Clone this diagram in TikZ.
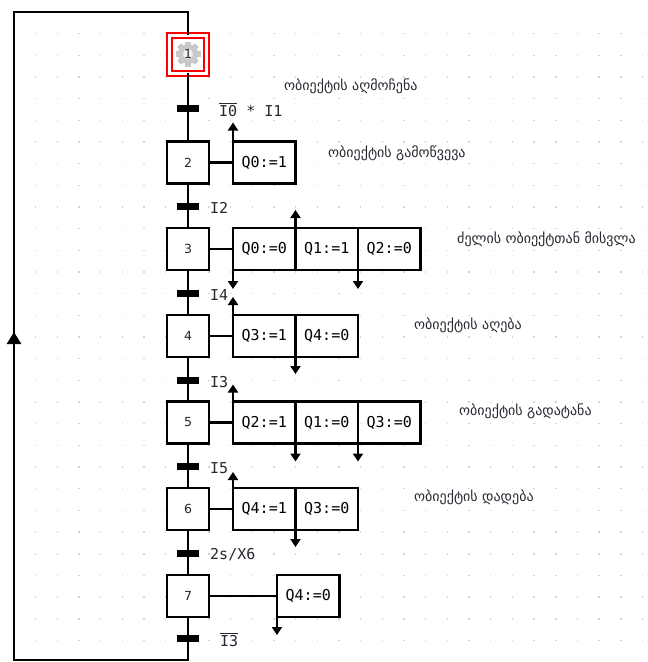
\documentclass[tikz,border=0pt]{standalone}
\usepackage{fontspec}
\setmainfont{DejaVu Sans}
\newfontfamily\monof{DejaVu Sans Mono}
\usetikzlibrary{arrows.meta}
% overlined signal name (negated input)
\newcommand\negsig[1]{\vbox{\hrule height 1.2pt\kern 1.6pt\hbox{#1}}}
\definecolor{gridc}{RGB}{212,212,212}
\definecolor{gearc}{RGB}{200,200,200}
\definecolor{txtc}{RGB}{40,40,50}
\begin{document}
\begin{tikzpicture}[x=1pt,y=-1pt,
  wire/.style={line width=2.4pt},
  stepbox/.style={draw,line width=2.4pt,minimum width=42pt,minimum height=42pt,inner sep=0pt,outer sep=0pt,
    font=\fontsize{12.5}{14}\selectfont,text=txtc},
  initstep/.style={draw=red,double=white,line width=2pt,double distance=3pt,outer sep=0pt,
    minimum width=37pt,minimum height=38pt,inner sep=0pt,font=\fontsize{12.5}{14}\selectfont,text=txtc},
  actbox/.style={draw,line width=2.4pt,minimum width=62.5pt,minimum height=42pt,inner sep=0pt,outer sep=0pt,
    font=\monof\fontsize{15}{17}\selectfont},
  trbar/.style={fill=black,minimum width=22pt,minimum height=7pt,inner sep=0pt},
  cond/.style={anchor=west,inner sep=0pt,font=\monof\fontsize{15}{17}\selectfont,text=txtc},
  note/.style={anchor=west,inner sep=0pt,font=\fontsize{14}{16}\selectfont,text=txtc},
  tip/.style={-{Triangle[width=10pt,length=8pt]}},
]
\useasboundingbox (0,0) rectangle (648,662);
\fill[white] (0,0) rectangle (648,662);

% background dot grid
\foreach \i in {1,...,29}
  \foreach \j in {1,...,29}
    \fill[gridc] ({14+\i*21.67-0.75},{12+\j*21.67-0.75}) rectangle ++(1.5,1.5);

% gear symbol of the initial step
\fill[gearc] (188,54) circle (10);
\foreach \a in {0,45,...,315}
  \fill[gearc,rotate around={\a:(188,54)}] (185.2,41.5) rectangle (190.8,48);
\fill[gray!12] (188,54) circle (5);

% steps
\node[initstep] (s1) at (188,54) {1};
\node[stepbox] (s2) at (188,162.5) {2};
\node[stepbox] (s3) at (188,249) {3};
\node[stepbox] (s4) at (188,336) {4};
\node[stepbox] (s5) at (188,422.5) {5};
\node[stepbox] (s6) at (188,509) {6};
\node[stepbox] (s7) at (188,596) {7};

% return loop
\coordinate (lb) at (188,660);
\coordinate (llb) at (14,660);
\coordinate (llt) at (14,12);
\coordinate (lt) at (188,12);
\coordinate (mid) at (14,332);
\draw[wire] (s1) -- (s2);
\draw[wire] (s2) -- (s3);
\draw[wire] (s3) -- (s4);
\draw[wire] (s4) -- (s5);
\draw[wire] (s5) -- (s6);
\draw[wire] (s6) -- (s7);
\draw[wire,line join=miter] (s7) -- (lb) -- (llb) -- (llt) -- (lt) -- (s1);
\draw[wire,-{Triangle[width=14pt,length=12pt]}] (llb) -- (mid);

% transitions
\node[trbar] (t1) at (188,108) {};
\node[trbar] (t2) at (188,206) {};
\node[trbar] (t3) at (188,293) {};
\node[trbar] (t4) at (188,380) {};
\node[trbar] (t5) at (188,466) {};
\node[trbar] (t6) at (188,553) {};
\node[trbar] (t7) at (188,638) {};
\node[cond] (c1) at (219,110) {\negsig{I0} * I1};
\node[cond] (c2) at (210,208) {I2};
\node[cond] (c3) at (210,295) {I4};
\node[cond] (c4) at (210,382) {I3};
\node[cond] (c5) at (210,468) {I5};
\node[cond] (c6) at (210,555) {2s/X6};
\node[cond] (c7) at (220,640) {\negsig{I3}};

% actions
\node[actbox,anchor=west] (a2) at (233,162.5) {Q0:=1};
\node[actbox,anchor=west] (a3a) at (233,249) {Q0:=0};
\node[actbox,anchor=west] (a3b) at (a3a.east) {Q1:=1};
\node[actbox,anchor=west] (a3c) at (a3b.east) {Q2:=0};
\node[actbox,anchor=west] (a4a) at (233,336) {Q3:=1};
\node[actbox,anchor=west] (a4b) at (a4a.east) {Q4:=0};
\node[actbox,anchor=west] (a5a) at (233,422.5) {Q2:=1};
\node[actbox,anchor=west] (a5b) at (a5a.east) {Q1:=0};
\node[actbox,anchor=west] (a5c) at (a5b.east) {Q3:=0};
\node[actbox,anchor=west] (a6a) at (233,509) {Q4:=1};
\node[actbox,anchor=west] (a6b) at (a6a.east) {Q3:=0};
\node[actbox,anchor=west] (a7) at (277,596) {Q4:=0};

\draw[wire] (s2) -- (a2);
\draw[wire] (s3) -- (a3a);
\draw[wire] (s4) -- (a4a);
\draw[wire] (s5) -- (a5a);
\draw[wire] (s6) -- (a6a);
\draw[wire] (s7) -- (a7);

% signal arrows of the actions
\draw[wire,tip] (a2.north west) -- ++(0,-19);
\draw[wire,tip] (a3b.north west) -- ++(0,-18);
\draw[wire,tip] (a3a.south west) -- ++(0,19);
\draw[wire,tip] (a3c.south west) -- ++(0,19);
\draw[wire,tip] (a4a.north west) -- ++(0,-18);
\draw[wire,tip] (a4b.south west) -- ++(0,17);
\draw[wire,tip] (a5a.north west) -- ++(0,-17);
\draw[wire,tip] (a5b.south west) -- ++(0,18);
\draw[wire,tip] (a5c.south west) -- ++(0,18);
\draw[wire,tip] (a6a.north west) -- ++(0,-16);
\draw[wire,tip] (a6b.south west) -- ++(0,17);
\draw[wire,tip] (a7.south west) -- ++(0,18);

% step descriptions
\node[note] (n1) at (284,86) {ობიექტის აღმოჩენა};
\node[note] (n2) at (328,153) {ობიექტის გამოწვევა};
\node[note] (n3) at (457,239) {ძელის ობიექტთან მისვლა};
\node[note] (n4) at (414,325) {ობიექტის აღება};
\node[note] (n5) at (459,411) {ობიექტის გადატანა};
\node[note] (n6) at (414,497) {ობიექტის დადება};
\end{tikzpicture}
\end{document}
